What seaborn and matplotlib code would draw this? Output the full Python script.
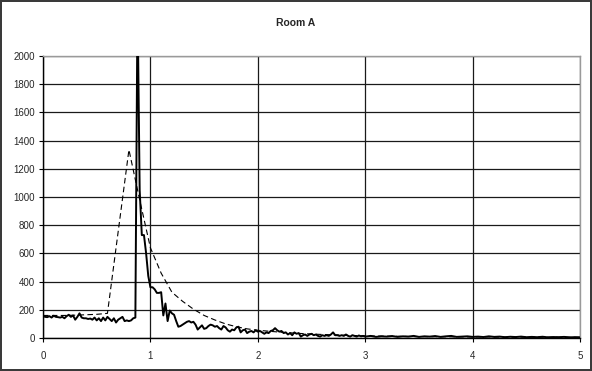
import matplotlib
matplotlib.use("Agg")
import matplotlib.pyplot as plt
import seaborn as sns
import pandas as pd

# Measured response (solid trace)
measured_t = [
    0.00, 0.02, 0.04, 0.06, 0.08, 0.10, 0.12, 0.14, 0.16, 0.18,
    0.20, 0.22, 0.24, 0.26, 0.28, 0.30, 0.32, 0.34, 0.36, 0.38,
    0.40, 0.42, 0.44, 0.46, 0.48, 0.50, 0.52, 0.54, 0.56, 0.58,
    0.60, 0.62, 0.64, 0.66, 0.68, 0.70, 0.72, 0.74, 0.76, 0.78,
    0.80, 0.82, 0.84, 0.86, 0.88, 0.90, 0.92, 0.94, 0.96, 0.98,
    1.00, 1.02, 1.04, 1.06, 1.08, 1.10, 1.12, 1.14, 1.16, 1.18,
    1.20, 1.22, 1.24, 1.26, 1.28, 1.30, 1.32, 1.34, 1.36, 1.38,
    1.40, 1.42, 1.44, 1.46, 1.48, 1.50, 1.52, 1.54, 1.56, 1.58,
    1.60, 1.62, 1.64, 1.66, 1.68, 1.70, 1.72, 1.74, 1.76, 1.78,
    1.80, 1.82, 1.84, 1.86, 1.88, 1.90, 1.92, 1.94, 1.96, 1.98,
    2.00, 2.02, 2.04, 2.06, 2.08, 2.10, 2.12, 2.14, 2.16, 2.18,
    2.20, 2.22, 2.24, 2.26, 2.28, 2.30, 2.32, 2.34, 2.36, 2.38,
    2.40, 2.42, 2.44, 2.46, 2.48, 2.50, 2.52, 2.54, 2.56, 2.58,
    2.60, 2.62, 2.64, 2.66, 2.68, 2.70, 2.72, 2.74, 2.76, 2.78,
    2.80, 2.82, 2.84, 2.86, 2.88, 2.90, 2.92, 2.94, 2.96, 2.98,
    3.00, 3.05, 3.10, 3.15, 3.20, 3.25, 3.30, 3.35, 3.40, 3.45,
    3.50, 3.55, 3.60, 3.65, 3.70, 3.75, 3.80, 3.85, 3.90, 3.95,
    4.00, 4.05, 4.10, 4.15, 4.20, 4.25, 4.30, 4.35, 4.40, 4.45,
    4.50, 4.55, 4.60, 4.65, 4.70, 4.75, 4.80, 4.85, 4.90, 4.95,
    5.00,
]
measured_v = [
    155, 150, 148, 155, 145, 158, 150, 148, 145, 150,
    140, 155, 165, 150, 160, 130, 150, 175, 145, 140,
    140, 135, 138, 130, 145, 125, 140, 120, 145, 125,
    150, 135, 120, 140, 110, 130, 140, 150, 120, 125,
    120, 125, 140, 145, 2400, 1050, 730, 730, 600, 440,
    360, 360, 345, 320, 320, 325, 160, 245, 120, 195,
    175, 165, 120, 80, 85, 95, 105, 115, 120, 110,
    115, 95, 60, 75, 90, 65, 70, 85, 95, 90,
    80, 85, 70, 60, 85, 75, 55, 45, 60, 55,
    75, 80, 40, 55, 60, 35, 45, 50, 40, 55,
    45, 50, 40, 30, 40, 35, 50, 55, 70, 55,
    45, 50, 35, 40, 25, 35, 20, 40, 30, 35,
    10, 20, 25, 15, 25, 30, 20, 25, 15, 10,
    20, 15, 20, 15, 25, 40, 20, 20, 15, 20,
    15, 25, 15, 10, 20, 15, 10, 18, 12, 15,
    10, 15, 8, 12, 10, 14, 8, 12, 10, 15,
    8, 12, 10, 14, 8, 12, 15, 8, 10, 12,
    8, 10, 7, 12, 8, 10, 6, 9, 7, 10,
    6, 8, 6, 9, 5, 7, 6, 8, 5, 6,
    5,
]

# Model prediction (dashed trace)
model_t = [0.0, 0.1, 0.2, 0.3, 0.4, 0.5, 0.6, 0.8, 0.9, 1.0,
           1.1, 1.2, 1.3, 1.4, 1.5, 1.6, 1.7, 1.8, 1.9, 2.0,
           2.2, 2.4, 2.6, 2.8, 3.0, 3.5, 4.0, 4.5, 5.0]
model_v = [160, 160, 160, 162, 165, 168, 175, 1335, 980, 640,
           460, 325, 260, 205, 160, 128, 100, 80, 65, 55,
           42, 32, 25, 20, 15, 10, 8, 6, 5]

x_ticks = [0, 1, 2, 3, 4, 5]
y_ticks = list(range(0, 2001, 200))
title = "Room A"

sns.set_theme(style="white")
plt.rcParams["font.family"] = ["Liberation Sans", "DejaVu Sans"]

fig = plt.figure(figsize=(5.92, 3.71), dpi=100, edgecolor="#3a3a3a", linewidth=1.6)
ax = fig.add_axes([0.0726, 0.0889, 0.9074, 0.7601])

measured = pd.DataFrame({"t": measured_t, "v": measured_v})
model = pd.DataFrame({"t": model_t, "v": model_v})

sns.lineplot(data=model, x="t", y="v", ax=ax, color="black", linewidth=0.8,
             dashes=False, linestyle=(0, (5, 3)), zorder=3)
sns.lineplot(data=measured, x="t", y="v", ax=ax, color="black", linewidth=1.4,
             zorder=4)

ax.set_xlim(0, 5)
ax.set_ylim(0, 2000)
ax.set_xticks(x_ticks)
ax.set_yticks(y_ticks)
ax.set_xlabel("")
ax.set_ylabel("")
ax.grid(True, color="#1a1a1a", linewidth=0.9)
ax.set_axisbelow(True)

for side in ("left", "bottom"):
    ax.spines[side].set_color("black")
    ax.spines[side].set_linewidth(1.0)
for side in ("top", "right"):
    ax.spines[side].set_color("#9a9a9a")
    ax.spines[side].set_linewidth(1.0)

ax.tick_params(axis="both", which="major", labelsize=7, length=3, width=0.8,
               color="black", direction="out", bottom=True, left=True, pad=3)
ax.tick_params(axis="x", pad=6)

fig.text(0.5, 0.938, title, ha="center", va="center", fontsize=7.5,
         fontweight="bold")

fig.savefig("out.png", dpi=100, edgecolor=fig.get_edgecolor())
